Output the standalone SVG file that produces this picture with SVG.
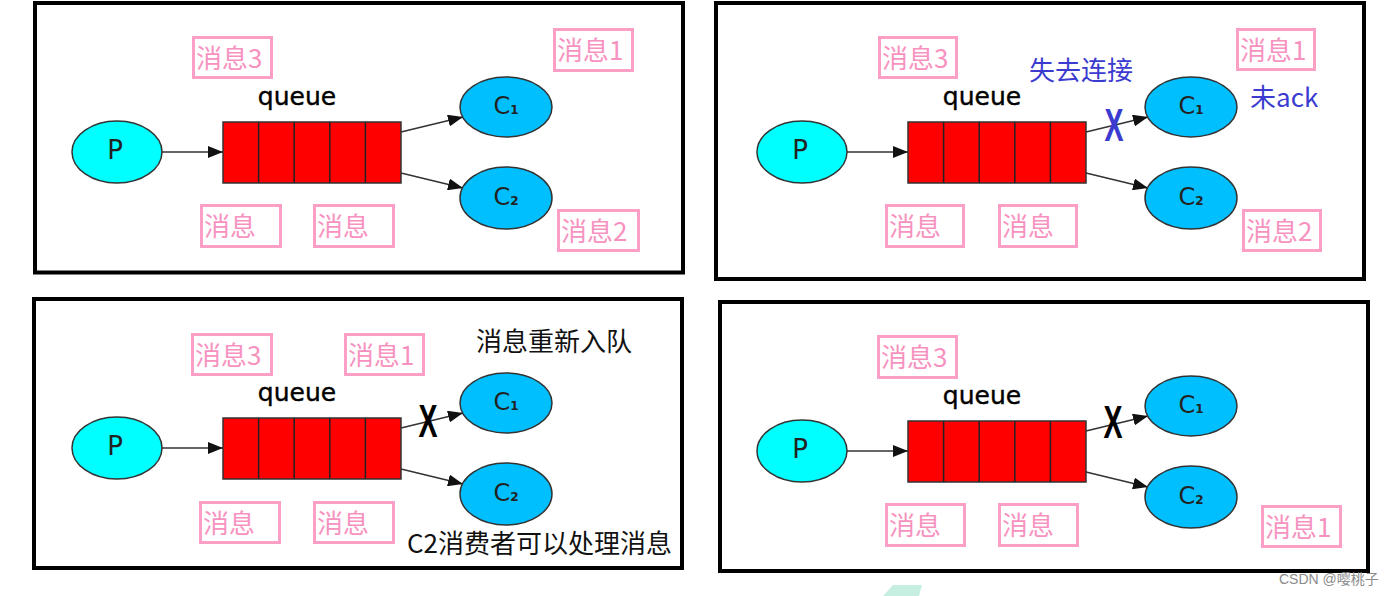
<svg xmlns="http://www.w3.org/2000/svg" width="1394" height="596" viewBox="0 0 1394 596">
<defs>
<style>
.panel{fill:#fff;stroke:#000;stroke-width:4}
.pn{fill:#00ffff;stroke:#333;stroke-width:1.5}
.cn{fill:#00bfff;stroke:#333;stroke-width:1.5}
.qn{fill:#ff0000;stroke:#333;stroke-width:1.5}
.div{stroke:#222;stroke-width:1.5}
.edge{stroke:#333;stroke-width:1.6;fill:none;marker-end:url(#ah)}
.lbl rect{fill:none;stroke:#fc9fc7;stroke-width:3}
.lbl text{font-family:"Noto Sans CJK SC",sans-serif;font-size:26px;fill:#f792c0}
.nt{font-family:"DejaVu Sans",sans-serif;font-size:24px;fill:#222;text-anchor:middle}
.ptxt{font-size:26px}
.sub{font-size:12px;font-weight:bold}
.qt{font-family:"DejaVu Sans",sans-serif;font-size:25px;fill:#000;text-anchor:middle;stroke:#000;stroke-width:0.4}
.note{font-family:"Noto Sans CJK SC",sans-serif;font-size:26px;fill:#111}
.blue{fill:#3b3bd0}
.x{font-family:"Liberation Sans",sans-serif;font-weight:bold;font-size:46px;text-anchor:middle}
.wm{font-family:"Liberation Sans","Noto Sans CJK SC",sans-serif;font-size:14px;fill:#8c8c8c}
</style>
<marker id="ah" markerUnits="userSpaceOnUse" markerWidth="16" markerHeight="12" refX="15" refY="6" orient="auto"><path d="M0,0 L15,6 L0,12 z" fill="#111"/></marker>
</defs>
<rect x="0" y="0" width="1394" height="596" fill="#fff"/>

<!-- Panel 1 -->
<g id="panel1">
<rect class="panel" x="35" y="3" width="648" height="269.5"/>
<g id="p1-connectors">
<line class="edge" x1="162" y1="152" x2="223" y2="152"/>
<line class="edge" x1="401" y1="132" x2="463" y2="117"/>
<line class="edge" x1="401" y1="173" x2="463" y2="188"/>
</g>
<g id="p1-P"><ellipse class="pn" cx="117" cy="152" rx="45" ry="31"/><text class="nt ptxt" x="115" y="159">P</text></g>
<g id="p1-queue"><text class="qt" x="297" y="105">queue</text><rect class="qn" x="223" y="122" width="178" height="61"/><line class="div" x1="258.6" y1="122" x2="258.6" y2="183"/><line class="div" x1="294.2" y1="122" x2="294.2" y2="183"/><line class="div" x1="329.8" y1="122" x2="329.8" y2="183"/><line class="div" x1="365.4" y1="122" x2="365.4" y2="183"/></g>
<g id="p1-C1"><ellipse class="cn" cx="506" cy="107" rx="46" ry="30"/><text class="nt" x="506" y="114">C<tspan class="sub">1</tspan></text></g>
<g id="p1-C2"><ellipse class="cn" cx="506" cy="198" rx="46" ry="31"/><text class="nt" x="506" y="205">C<tspan class="sub">2</tspan></text></g>
<g class="lbl" id="p1-m3"><rect x="193.5" y="37.5" width="78" height="40"/><text x="196" y="68">消息3</text></g>
<g class="lbl" id="p1-m1"><rect x="554.5" y="29.5" width="78" height="41"/><text x="557" y="60">消息1</text></g>
<g class="lbl" id="p1-ma"><rect x="201.5" y="205.5" width="79" height="41"/><text x="204" y="236">消息</text></g>
<g class="lbl" id="p1-mb"><rect x="314.5" y="205.5" width="79" height="41"/><text x="317" y="236">消息</text></g>
<g class="lbl" id="p1-m2"><rect x="558.5" y="210.5" width="80" height="40"/><text x="561" y="241">消息2</text></g>
</g>

<!-- Panel 2 -->
<g id="panel2">
<rect class="panel" x="716" y="3" width="648" height="276"/>
<g transform="translate(685,0)">
<g id="p2-connectors">
<line class="edge" x1="162" y1="152" x2="223" y2="152"/>
<line class="edge" x1="401" y1="132" x2="463" y2="117"/>
<line class="edge" x1="401" y1="173" x2="463" y2="188"/>
</g>
<g id="p2-P"><ellipse class="pn" cx="117" cy="152" rx="45" ry="31"/><text class="nt ptxt" x="115" y="159">P</text></g>
<g id="p2-queue"><text class="qt" x="297" y="105">queue</text><rect class="qn" x="223" y="122" width="178" height="61"/><line class="div" x1="258.6" y1="122" x2="258.6" y2="183"/><line class="div" x1="294.2" y1="122" x2="294.2" y2="183"/><line class="div" x1="329.8" y1="122" x2="329.8" y2="183"/><line class="div" x1="365.4" y1="122" x2="365.4" y2="183"/></g>
<g id="p2-C1"><ellipse class="cn" cx="506" cy="107" rx="46" ry="30"/><text class="nt" x="506" y="114">C<tspan class="sub">1</tspan></text></g>
<g id="p2-C2"><ellipse class="cn" cx="506" cy="198" rx="46" ry="31"/><text class="nt" x="506" y="205">C<tspan class="sub">2</tspan></text></g>
</g>
<g class="lbl" id="p2-m3"><rect x="879.5" y="37.5" width="77" height="40"/><text x="882" y="68">消息3</text></g>
<g class="lbl" id="p2-m1"><rect x="1237.5" y="29.5" width="77" height="40"/><text x="1240" y="60">消息1</text></g>
<g class="lbl" id="p2-ma"><rect x="886.5" y="205.5" width="77" height="41"/><text x="889" y="236">消息</text></g>
<g class="lbl" id="p2-mb"><rect x="999.5" y="205.5" width="77" height="41"/><text x="1002" y="236">消息</text></g>
<g class="lbl" id="p2-m2"><rect x="1243.5" y="210.5" width="77" height="40"/><text x="1246" y="241">消息2</text></g>
<text class="note blue" x="1029" y="80">失去连接</text>
<text class="note blue" x="1250" y="107">未ack</text>
<text class="x blue" transform="translate(1114,141) scale(0.62,1)">X</text>
</g>

<!-- Panel 3 -->
<g id="panel3">
<rect class="panel" x="34" y="299" width="648" height="269"/>
<g transform="translate(0,296)">
<g id="p3-connectors">
<line class="edge" x1="162" y1="152" x2="223" y2="152"/>
<line class="edge" x1="401" y1="132" x2="463" y2="117"/>
<line class="edge" x1="401" y1="173" x2="463" y2="188"/>
</g>
<g id="p3-P"><ellipse class="pn" cx="117" cy="152" rx="45" ry="31"/><text class="nt ptxt" x="115" y="159">P</text></g>
<g id="p3-queue"><text class="qt" x="297" y="105">queue</text><rect class="qn" x="223" y="122" width="178" height="61"/><line class="div" x1="258.6" y1="122" x2="258.6" y2="183"/><line class="div" x1="294.2" y1="122" x2="294.2" y2="183"/><line class="div" x1="329.8" y1="122" x2="329.8" y2="183"/><line class="div" x1="365.4" y1="122" x2="365.4" y2="183"/></g>
<g id="p3-C1"><ellipse class="cn" cx="506" cy="107" rx="46" ry="30"/><text class="nt" x="506" y="114">C<tspan class="sub">1</tspan></text></g>
<g id="p3-C2"><ellipse class="cn" cx="506" cy="198" rx="46" ry="31"/><text class="nt" x="506" y="205">C<tspan class="sub">2</tspan></text></g>
</g>
<g class="lbl" id="p3-m3"><rect x="192.5" y="334.5" width="79" height="40"/><text x="195" y="365">消息3</text></g>
<g class="lbl" id="p3-m1"><rect x="345.5" y="334.5" width="78" height="40"/><text x="348" y="365">消息1</text></g>
<g class="lbl" id="p3-ma"><rect x="200.5" y="502.5" width="79" height="40"/><text x="203" y="533">消息</text></g>
<g class="lbl" id="p3-mb"><rect x="314.5" y="502.5" width="79" height="40"/><text x="317" y="533">消息</text></g>
<text class="note" x="476" y="351">消息重新入队</text>
<text class="note" x="407" y="553">C2消费者可以处理消息</text>
<text class="x" fill="#000" transform="translate(428,437) scale(0.62,1)">X</text>
</g>

<!-- Panel 4 -->
<g id="panel4">
<rect class="panel" x="720" y="302" width="648" height="269"/>
<g transform="translate(685,299)">
<g id="p4-connectors">
<line class="edge" x1="162" y1="152" x2="223" y2="152"/>
<line class="edge" x1="401" y1="132" x2="463" y2="117"/>
<line class="edge" x1="401" y1="173" x2="463" y2="188"/>
</g>
<g id="p4-P"><ellipse class="pn" cx="117" cy="152" rx="45" ry="31"/><text class="nt ptxt" x="115" y="159">P</text></g>
<g id="p4-queue"><text class="qt" x="297" y="105">queue</text><rect class="qn" x="223" y="122" width="178" height="61"/><line class="div" x1="258.6" y1="122" x2="258.6" y2="183"/><line class="div" x1="294.2" y1="122" x2="294.2" y2="183"/><line class="div" x1="329.8" y1="122" x2="329.8" y2="183"/><line class="div" x1="365.4" y1="122" x2="365.4" y2="183"/></g>
<g id="p4-C1"><ellipse class="cn" cx="506" cy="107" rx="46" ry="30"/><text class="nt" x="506" y="114">C<tspan class="sub">1</tspan></text></g>
<g id="p4-C2"><ellipse class="cn" cx="506" cy="198" rx="46" ry="31"/><text class="nt" x="506" y="205">C<tspan class="sub">2</tspan></text></g>
</g>
<g class="lbl" id="p4-m3"><rect x="878.5" y="336.5" width="78" height="41"/><text x="881" y="367">消息3</text></g>
<g class="lbl" id="p4-ma"><rect x="886.5" y="504.5" width="78" height="41"/><text x="889" y="535">消息</text></g>
<g class="lbl" id="p4-mb"><rect x="999.5" y="504.5" width="78" height="41"/><text x="1002" y="535">消息</text></g>
<g class="lbl" id="p4-m1"><rect x="1262.5" y="506.5" width="78" height="40"/><text x="1265" y="537">消息1</text></g>
<text class="x" fill="#000" transform="translate(1113,438) scale(0.62,1)">X</text>
</g>

<polygon points="883,596 893,585 922,585 919,596" fill="#c6efe1"/>
<text class="wm" x="1279" y="584">CSDN @嘤桃子</text>
</svg>
